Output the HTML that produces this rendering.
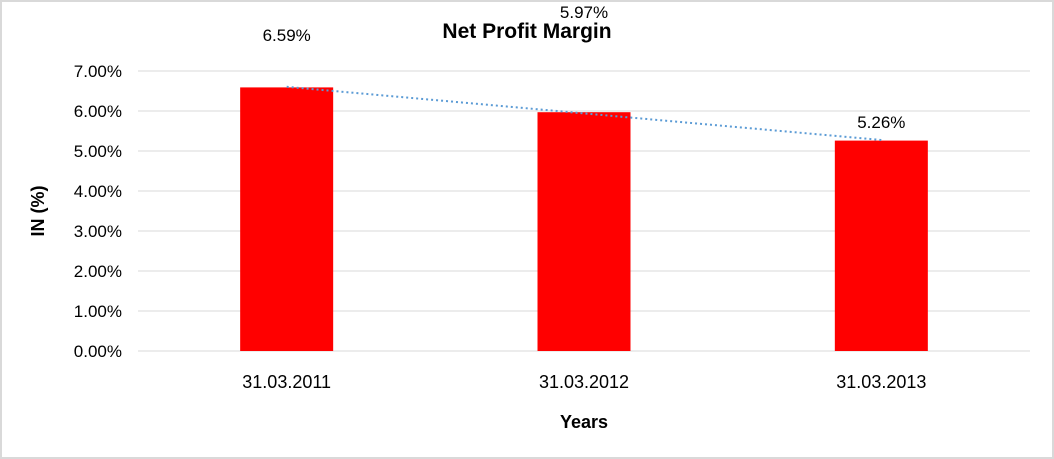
<!DOCTYPE html>
<html><head><meta charset="utf-8"><style>
body{margin:0;background:#fff}
svg{display:block;font-family:"Liberation Sans",Arial,sans-serif}
</style></head><body>
<svg width="1054" height="459">
<rect x="1" y="1" width="1052" height="457" fill="#fff" stroke="#d9d9d9" stroke-width="2"/>
<text x="527" y="38" text-anchor="middle" font-size="21" font-weight="bold">Net Profit Margin</text>
<g id="grid"></g><g id="bars"></g><g id="labels"></g><g id="trend"></g>
<text x="44" y="211" text-anchor="middle" font-size="18" font-weight="bold" transform="rotate(-90 44 211)">IN (%)</text>
<text x="584" y="428" text-anchor="middle" font-size="18" font-weight="bold">Years</text>
</svg>
<script>
const categories=["31.03.2011","31.03.2012","31.03.2013"];
const values=[6.59,5.97,5.26];
const labelOffsets=[0.96,2.15,0.115];
const yTicks=[0,1,2,3,4,5,6,7];
const L=138,R=1030,Y0=351,PX=40;
const ns="http://www.w3.org/2000/svg";
function y(v){return Y0-v*PX;}
function xc(i){return L+(R-L)/categories.length*(i+0.5);}
function mk(t,a,p){const e=document.createElementNS(ns,t);for(const k in a)e.setAttribute(k,a[k]);p.appendChild(e);return e;}
const g=document.getElementById('grid'),b=document.getElementById('bars'),lb=document.getElementById('labels'),tr=document.getElementById('trend');
yTicks.forEach(t=>{
 const l=mk('line',{x1:L,x2:R,y1:y(t),y2:y(t),stroke:'#d9d9d9','stroke-width':1},g);
 
 
 const tx=mk('text',{x:122,y:y(t)+6,'text-anchor':'end','font-size':17},g);
 tx.textContent=t.toFixed(2)+'%';
 
 
});
values.forEach((v,i)=>{
 const r=mk('rect',{x:xc(i)-46.5,y:y(v),width:93,height:v*PX,fill:'#ff0000'},b);
 
 
 const t=mk('text',{x:xc(i),y:y(v+labelOffsets[i])-8,'text-anchor':'middle','font-size':17},lb);
 t.textContent=v.toFixed(2)+'%';
 
 
 const c=mk('text',{x:xc(i),y:388,'text-anchor':'middle','font-size':18},lb);
 c.textContent=categories[i];
 
 
});
const n=values.length;let sx=0,sy=0,sxy=0,sxx=0;
values.forEach((v,i)=>{sx+=i;sy+=v;sxy+=i*v;sxx+=i*i;});
const m=(n*sxy-sx*sy)/(n*sxx-sx*sx),c0=(sy-m*sx)/n;
const tl=mk('line',{x1:xc(0),y1:y(c0),x2:xc(n-1),y2:y(c0+m*(n-1)),stroke:'#5b9bd5','stroke-width':2,'stroke-dasharray':'2 3'},tr);


</script>
</body></html>
